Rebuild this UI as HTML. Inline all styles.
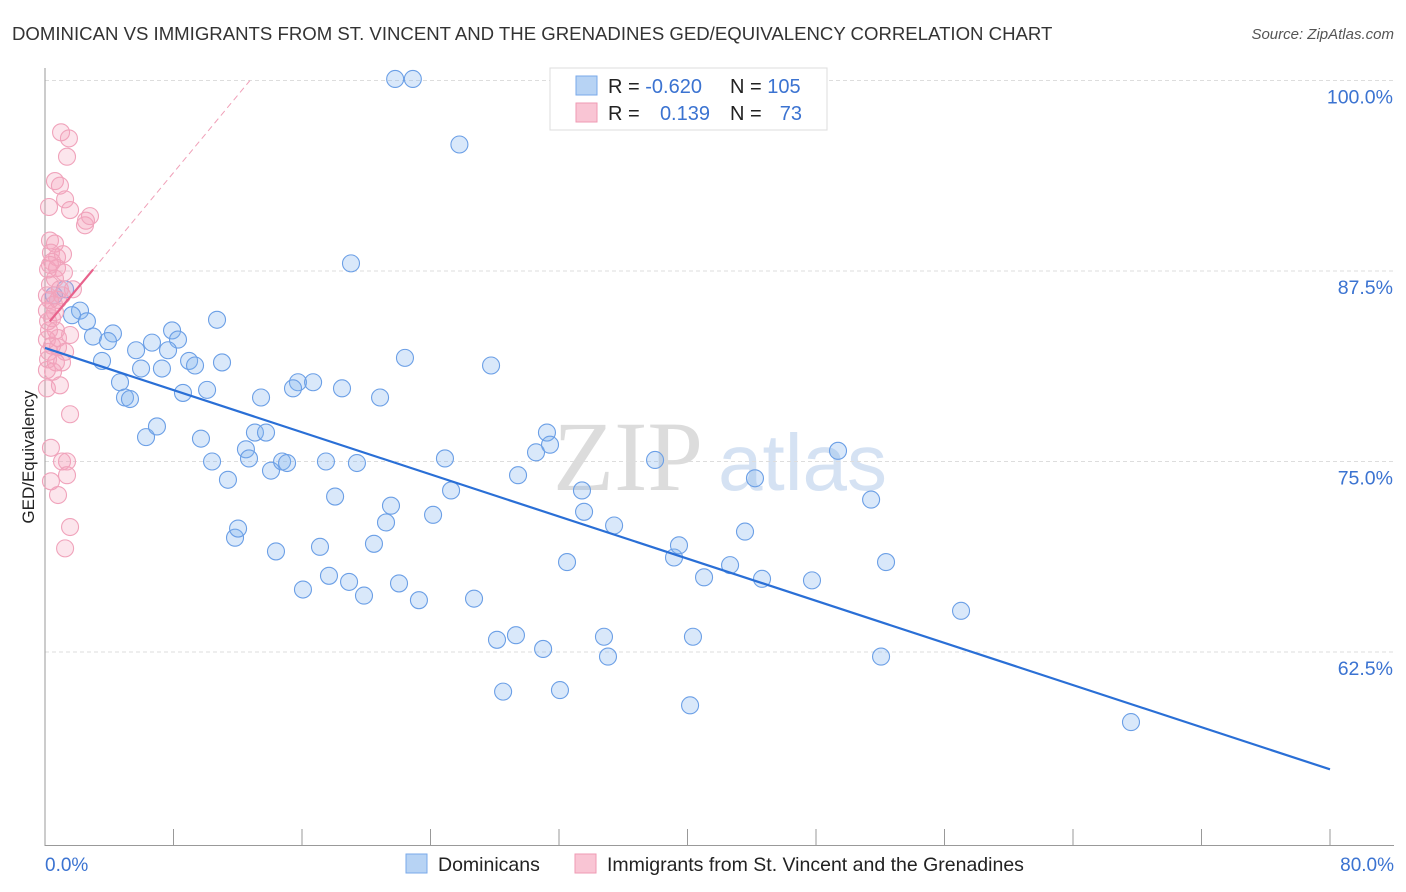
<!DOCTYPE html>
<html><head><meta charset="utf-8"><style>
body{margin:0;background:#fff;font-family:"Liberation Sans",sans-serif;}
svg{display:block}
</style></head><body>
<svg id="chart" width="1406" height="892">
<text x="12" y="40" font-size="18.6" fill="#333">DOMINICAN VS IMMIGRANTS FROM ST. VINCENT AND THE GRENADINES GED/EQUIVALENCY CORRELATION CHART</text>
<text x="1394" y="39" font-size="15" fill="#555" font-style="italic" text-anchor="end">Source: ZipAtlas.com</text>
<text x="553" y="490" font-size="100" fill="#dcdcdc" font-family="Liberation Serif,serif">ZIP</text>
<text x="718" y="490" font-size="80" fill="#d5e2f3">atlas</text>
<g id="grid"></g><g id="axes"></g><g id="marks"></g>
<text transform="translate(34,457) rotate(-90)" font-size="17" fill="#222" text-anchor="middle">GED/Equivalency</text>
<g>
<rect x="550" y="68" width="277" height="62" fill="#fff" stroke="#ddd"/>
<rect x="576" y="76" width="21" height="19" fill="#b7d3f4" stroke="#7aaaea"/>
<rect x="576" y="103" width="21" height="19" fill="#f9c5d4" stroke="#ef9ab3"/>
<text x="608" y="93" font-size="20" fill="#222">R = <tspan fill="#3b73d1">-0.620</tspan></text>
<text x="730" y="93" font-size="20" fill="#222">N = <tspan fill="#3b73d1">105</tspan></text>
<text x="608" y="120" font-size="20" fill="#222">R = </text><text x="710" y="120" font-size="20" fill="#3b73d1" text-anchor="end">0.139</text>
<text x="730" y="120" font-size="20" fill="#222">N = </text><text x="802" y="120" font-size="20" fill="#3b73d1" text-anchor="end">73</text>
</g>
<g>
<rect x="406" y="854" width="21" height="19" fill="#b7d3f4" stroke="#7aaaea"/>
<text x="438" y="871" font-size="19.5" fill="#222">Dominicans</text>
<rect x="575" y="854" width="21" height="19" fill="#f9c5d4" stroke="#ef9ab3"/>
<text x="607" y="871" font-size="19.5" fill="#222">Immigrants from St. Vincent and the Grenadines</text>
</g>
</svg>
<script>
const blueX=[21.8,22.9,25.8,19.05,0.56,1.25,2.18,1.68,2.61,2.99,4.23,3.92,3.55,5.67,6.66,7.91,8.28,7.66,8.97,9.34,10.71,11.02,7.28,5.98,4.67,4.98,5.29,8.59,10.09,15.75,16.69,15.44,13.45,18.49,20.86,22.41,27.77,6.29,6.97,9.71,10.4,11.39,12.51,12.7,13.07,13.76,14.07,14.76,15.07,17.49,19.42,18.06,21.54,21.23,20.48,24.9,25.28,24.16,29.45,30.57,31.25,31.44,33.43,33.56,35.43,37.98,44.2,49.37,51.43,11.83,12.02,14.38,17.12,16.06,17.68,18.93,19.86,22.04,23.28,26.71,32.5,28.14,29.32,31.01,28.52,32.06,34.8,35.05,39.16,39.47,41.03,42.65,43.58,44.64,47.75,52.36,57.03,40.34,52.05,40.16,67.61];
const blueY=[100.1,100.1,95.8,88.0,85.9,86.3,84.9,84.6,84.2,83.2,83.4,82.9,81.6,82.3,82.8,83.6,83.0,82.3,81.6,81.3,84.3,81.5,81.1,81.1,80.2,79.2,79.1,79.5,79.7,80.2,80.2,79.8,79.2,79.8,79.2,81.8,81.3,76.6,77.3,76.5,75.0,73.8,75.8,75.2,76.9,76.9,74.4,75.0,74.9,75.0,74.9,72.7,72.1,71.0,69.6,75.2,73.1,71.5,74.1,75.6,76.9,76.1,73.1,71.7,70.8,75.1,73.9,75.7,72.5,70.0,70.6,69.1,69.4,66.6,67.5,67.1,66.2,67.0,65.9,66.0,68.4,63.3,63.6,62.7,59.9,60.0,63.5,62.2,68.7,69.5,67.4,68.2,70.4,67.3,67.2,68.4,65.2,63.5,62.2,59.0,57.9];
const pinkX=[1.0,1.49,1.37,0.62,0.93,1.25,0.25,1.56,2.55,2.49,2.8,0.31,0.62,0.37,0.75,1.12,0.44,0.75,1.18,0.19,0.62,0.31,0.93,1.74,0.31,0.81,0.12,0.62,0.19,0.68,1.56,0.12,0.44,0.81,0.25,1.25,0.68,1.06,0.12,0.5,0.12,0.93,1.56,0.37,1.06,1.37,0.37,1.37,0.81,1.56,1.25,0.25,0.44,0.12,1.06,0.56,0.19,0.81,0.31];
const pinkY=[96.6,96.2,95.0,93.4,93.1,92.2,91.7,91.5,90.8,90.5,91.1,89.5,89.3,88.7,88.4,88.6,88.1,87.7,87.4,87.6,87.0,86.6,86.3,86.3,85.6,85.6,84.9,84.8,84.2,83.6,83.3,83.0,82.6,83.1,82.2,82.2,81.5,81.5,81.0,80.9,79.8,80.0,78.1,75.9,75.0,75.0,73.7,74.1,72.8,70.7,69.3,83.6,84.4,85.9,85.9,85.3,81.7,82.5,87.9];
const blueTrendX=[0,80], blueTrendY=[82.45,54.8];
const pinkTrendX=[0.3,3.0], pinkTrendY=[84.2,87.6];
const pinkDashX=[3.0,12.76], pinkDashY=[87.6,100];
const yTicks=[100,87.5,75,62.5];
const yTickLabels=["100.0%","87.5%","75.0%","62.5%"];
const xTicks=[0,8,16,24,32,40,48,56,64,72,80];

const X0=45,X1=1330,YT=80.5,PX=(X1-X0)/80,PY=190.5/12.5;
const sx=v=>X0+v*PX, sy=v=>YT+(100-v)*PY;
const NS="http://www.w3.org/2000/svg";
function mk(tag,attrs,parent){const e=document.createElementNS(NS,tag);for(const k in attrs)e.setAttribute(k,attrs[k]);parent.appendChild(e);return e;}
const grid=document.getElementById('grid'),axes=document.getElementById('axes'),marks=document.getElementById('marks');
yTicks.forEach((t,i)=>{
 const l=mk('line',{x1:X0,x2:1394,y1:sy(t),y2:sy(t),stroke:'#ddd','stroke-dasharray':'4,3'},grid);
 
 
 const tx=mk('text',{x:1393,y:sy(t)+23,'font-size':19.5,fill:'#3b73d1','text-anchor':'end'},grid);
 tx.textContent=yTickLabels[i];
 
 
});
const ax=mk('line',{x1:X0,x2:X0,y1:68,y2:846,stroke:'#999'},axes);


const bx=mk('line',{x1:X0,x2:1394,y1:845.5,y2:845.5,stroke:'#999'},axes);


xTicks.forEach(t=>{const l=mk('line',{x1:sx(t),x2:sx(t),y1:829,y2:846,stroke:'#999'},axes);
 
 });
[[0,"0.0%","start",45],[80,"80.0%","end",1394]].forEach(a=>{const t=mk('text',{x:a[3],y:871,'font-size':19,fill:'#3b73d1','text-anchor':a[2]},axes);t.textContent=a[1];
 
 });
blueX.forEach((x,i)=>{const c=mk('circle',{cx:sx(x),cy:sy(blueY[i]),r:8.5,fill:'rgba(130,178,238,0.3)',stroke:'#6b9fe6','stroke-width':1.1},marks);
 
 });
pinkX.forEach((x,i)=>{const c=mk('circle',{cx:sx(x),cy:sy(pinkY[i]),r:8.5,fill:'rgba(245,160,188,0.28)',stroke:'#f0a3bb','stroke-width':1.1},marks);
 
 });
const bt=mk('line',{x1:sx(blueTrendX[0]),y1:sy(blueTrendY[0]),x2:sx(blueTrendX[1]),y2:sy(blueTrendY[1]),stroke:'#2a6fd6','stroke-width':2.2},marks);


const pt=mk('line',{x1:sx(pinkTrendX[0]),y1:sy(pinkTrendY[0]),x2:sx(pinkTrendX[1]),y2:sy(pinkTrendY[1]),stroke:'#e8628c','stroke-width':2.2},marks);


const pd=mk('line',{x1:sx(pinkDashX[0]),y1:sy(pinkDashY[0]),x2:sx(pinkDashX[1]),y2:sy(pinkDashY[1]),stroke:'#f0a0b8','stroke-width':1,'stroke-dasharray':'6,4'},marks);


</script>
</body></html>
